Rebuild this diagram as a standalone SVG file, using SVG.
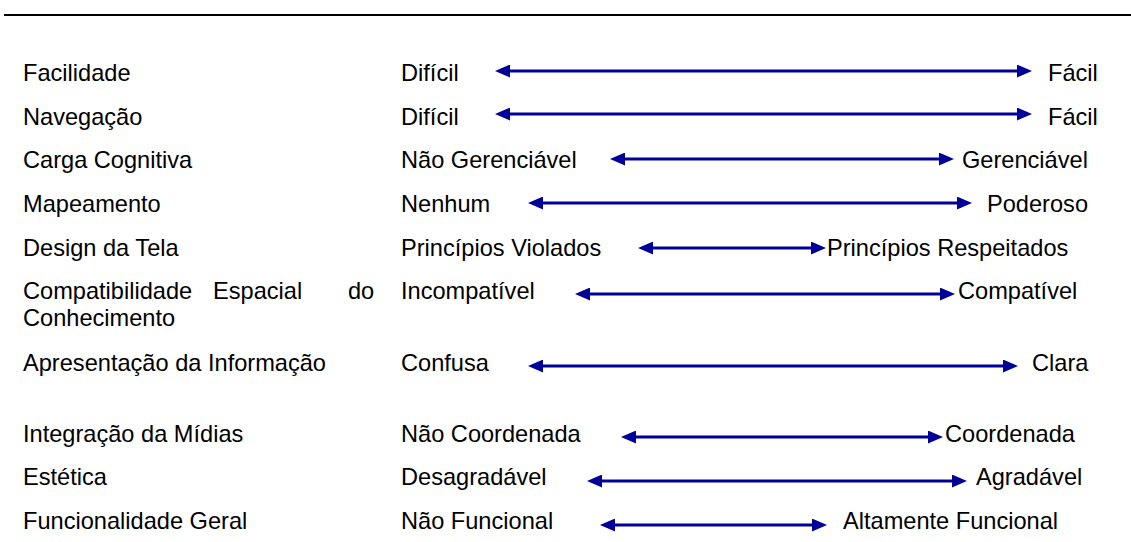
<svg xmlns="http://www.w3.org/2000/svg" width="1131" height="542" viewBox="0 0 1131 542">
<style>
text{font-family:"Liberation Sans",Arial,sans-serif;font-size:23.6px;fill:#000}
.ar{stroke:#000099;stroke-width:3;fill:none;marker-start:url(#ah);marker-end:url(#ah)}
</style>
<defs>
<marker id="ah" viewBox="0 0 15 13" refX="7" refY="6.5" markerWidth="15" markerHeight="13" markerUnits="userSpaceOnUse" orient="auto-start-reverse">
<path d="M0,0 L15,6.5 L0,13 Z" fill="#000099"/>
</marker>
</defs>
<rect x="4" y="14" width="1127" height="2" fill="#000"/>
<g id="labels-left">
<text x="23" y="81">Facilidade</text>
<text x="23" y="125">Navegação</text>
<text x="23" y="168">Carga Cognitiva</text>
<text x="23" y="212">Mapeamento</text>
<text x="23" y="256">Design da Tela</text>
<text y="299"><tspan x="23">Compatibilidade</tspan><tspan x="213">Espacial</tspan><tspan x="348">do</tspan></text>
<text x="23" y="326">Conhecimento</text>
<text x="23" y="371">Apresentação da Informação</text>
<text x="23" y="442">Integração da Mídias</text>
<text x="23" y="485">Estética</text>
<text x="23" y="529">Funcionalidade Geral</text>
</g>
<g id="labels-low">
<text x="401" y="81">Difícil</text>
<text x="401" y="125">Difícil</text>
<text x="401" y="168">Não Gerenciável</text>
<text x="401" y="212">Nenhum</text>
<text x="401" y="256">Princípios Violados</text>
<text x="401" y="299">Incompatível</text>
<text x="401" y="371">Confusa</text>
<text x="401" y="442">Não Coordenada</text>
<text x="401" y="485">Desagradável</text>
<text x="401" y="529">Não Funcional</text>
</g>
<g id="labels-high">
<text x="1048" y="81">Fácil</text>
<text x="1048" y="125">Fácil</text>
<text x="962" y="168">Gerenciável</text>
<text x="987" y="212">Poderoso</text>
<text x="827" y="256">Princípios Respeitados</text>
<text x="958" y="299">Compatível</text>
<text x="1032" y="371">Clara</text>
<text x="945" y="442">Coordenada</text>
<text x="976" y="485">Agradável</text>
<text x="843" y="529">Altamente Funcional</text>
</g>
<g id="connectors">
<line class="ar" x1="503" y1="71" x2="1024" y2="71"/>
<line class="ar" x1="503" y1="114" x2="1024" y2="114"/>
<line class="ar" x1="618" y1="159" x2="946" y2="159"/>
<line class="ar" x1="536" y1="203" x2="964" y2="203"/>
<line class="ar" x1="646" y1="248" x2="818" y2="248"/>
<line class="ar" x1="583" y1="294" x2="947" y2="294"/>
<line class="ar" x1="536" y1="366" x2="1010" y2="366"/>
<line class="ar" x1="629" y1="437" x2="935" y2="437"/>
<line class="ar" x1="595" y1="481" x2="959" y2="481"/>
<line class="ar" x1="608" y1="525" x2="819" y2="525"/>
</g>
</svg>
